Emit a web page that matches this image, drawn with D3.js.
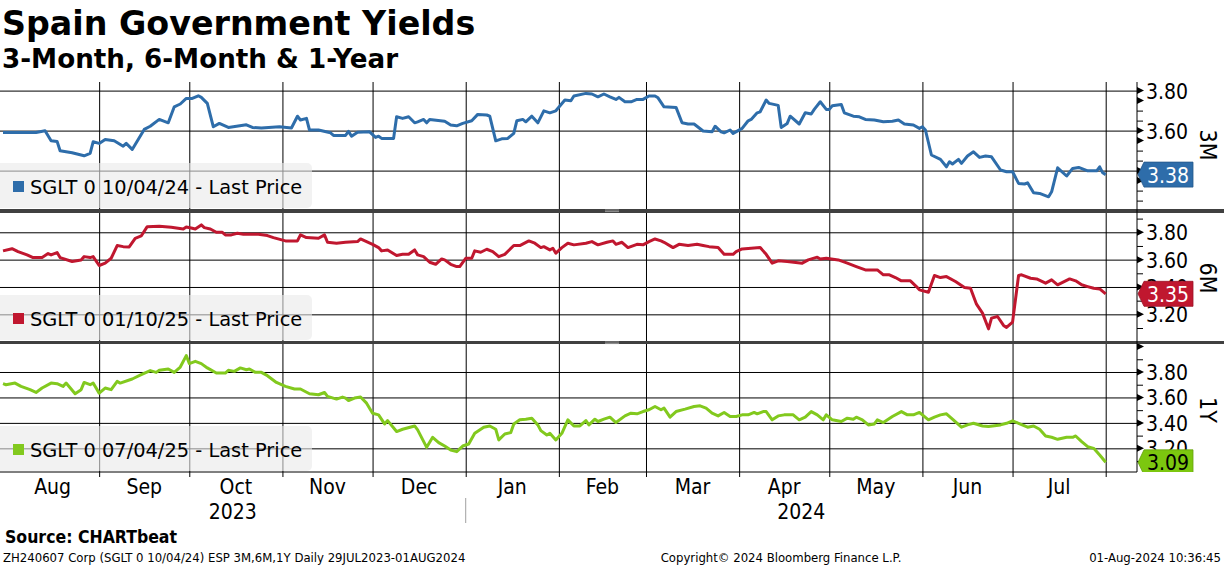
<!DOCTYPE html>
<html>
<head>
<meta charset="utf-8">
<script src="https://cdn.jsdelivr.net/npm/d3@7"></script>
<style>
  body { margin: 0; background: #fff; }
  svg { display: block; }
</style>
</head>
<body>
<svg id="chart" width="1224" height="566"></svg>
<script>
// ---- data ----
const sglt3M = [
  ["2023-07-31",3.591],["2023-08-11",3.591],["2023-08-14",3.599],["2023-08-16",3.549],["2023-08-18",3.546],
  ["2023-08-19",3.499],["2023-08-23",3.489],["2023-08-27",3.474],["2023-08-29",3.486],["2023-08-30",3.544],
  ["2023-09-01",3.536],["2023-09-03",3.556],["2023-09-06",3.549],["2023-09-09",3.522],["2023-09-10",3.536],
  ["2023-09-12",3.506],["2023-09-14",3.556],["2023-09-16",3.606],["2023-09-18",3.622],["2023-09-21",3.656],
  ["2023-09-24",3.639],["2023-09-26",3.719],["2023-09-28",3.733],["2023-09-30",3.761],["2023-10-02",3.761],
  ["2023-10-04",3.774],["2023-10-05",3.766],["2023-10-07",3.736],["2023-10-09",3.619],["2023-10-11",3.636],
  ["2023-10-14",3.616],["2023-10-20",3.629],["2023-10-22",3.616],["2023-10-25",3.613],["2023-10-31",3.619],
  ["2023-11-04",3.613],["2023-11-06",3.672],["2023-11-07",3.653],["2023-11-09",3.661],["2023-11-10",3.603],
  ["2023-11-13",3.603],["2023-11-17",3.589],["2023-11-18",3.576],["2023-11-22",3.576],["2023-11-23",3.596],
  ["2023-11-24",3.572],["2023-11-26",3.592],["2023-11-30",3.594],["2023-12-02",3.566],["2023-12-03",3.572],
  ["2023-12-04",3.561],["2023-12-08",3.561],["2023-12-09",3.669],["2023-12-11",3.661],["2023-12-13",3.669],
  ["2023-12-15",3.639],["2023-12-16",3.644],["2023-12-18",3.656],["2023-12-19",3.639],["2023-12-20",3.656],
  ["2023-12-25",3.647],["2023-12-27",3.628],["2023-12-29",3.624],["2023-12-31",3.636],["2024-01-03",3.649],
  ["2024-01-05",3.681],["2024-01-08",3.678],["2024-01-09",3.672],["2024-01-11",3.549],["2024-01-13",3.559],
  ["2024-01-15",3.561],["2024-01-17",3.586],["2024-01-18",3.649],["2024-01-20",3.656],["2024-01-21",3.644],
  ["2024-01-23",3.672],["2024-01-25",3.639],["2024-01-27",3.699],["2024-01-29",3.689],["2024-01-31",3.699],
  ["2024-02-03",3.753],["2024-02-05",3.749],["2024-02-06",3.773],["2024-02-10",3.786],["2024-02-12",3.783],
  ["2024-02-14",3.769],["2024-02-16",3.783],["2024-02-18",3.769],["2024-02-20",3.756],["2024-02-21",3.766],
  ["2024-02-23",3.744],["2024-02-25",3.744],["2024-02-27",3.756],["2024-02-29",3.756],["2024-03-02",3.773],
  ["2024-03-04",3.773],["2024-03-05",3.764],["2024-03-07",3.719],["2024-03-11",3.716],["2024-03-13",3.639],
  ["2024-03-15",3.633],["2024-03-17",3.633],["2024-03-20",3.598],["2024-03-23",3.594],["2024-03-24",3.622],
  ["2024-03-26",3.594],["2024-03-27",3.589],["2024-03-29",3.603],["2024-03-30",3.586],["2024-04-02",3.611],
  ["2024-04-04",3.649],["2024-04-05",3.656],["2024-04-07",3.689],["2024-04-08",3.694],["2024-04-10",3.753],
  ["2024-04-11",3.736],["2024-04-14",3.726],["2024-04-15",3.616],["2024-04-17",3.636],["2024-04-18",3.672],
  ["2024-04-21",3.633],["2024-04-23",3.689],["2024-04-25",3.683],["2024-04-26",3.706],["2024-04-28",3.744],
  ["2024-04-30",3.706],["2024-05-01",3.706],["2024-05-02",3.724],["2024-05-05",3.731],["2024-05-06",3.689],
  ["2024-05-09",3.672],["2024-05-11",3.669],["2024-05-13",3.656],["2024-05-16",3.653],["2024-05-19",3.644],
  ["2024-05-22",3.647],["2024-05-24",3.653],["2024-05-26",3.633],["2024-05-29",3.628],["2024-05-31",3.611],
  ["2024-06-01",3.619],["2024-06-02",3.603],["2024-06-04",3.478],["2024-06-07",3.456],["2024-06-09",3.419],
  ["2024-06-10",3.444],["2024-06-11",3.433],["2024-06-13",3.456],["2024-06-14",3.436],["2024-06-16",3.473],
  ["2024-06-18",3.494],["2024-06-20",3.466],["2024-06-22",3.473],["2024-06-24",3.469],["2024-06-27",3.403],
  ["2024-06-29",3.394],["2024-07-01",3.394],["2024-07-03",3.336],["2024-07-05",3.333],["2024-07-06",3.339],
  ["2024-07-08",3.289],["2024-07-10",3.286],["2024-07-13",3.269],["2024-07-14",3.294],["2024-07-16",3.414],
  ["2024-07-19",3.373],["2024-07-21",3.411],["2024-07-23",3.416],["2024-07-26",3.399],["2024-07-29",3.399],
  ["2024-07-30",3.419],["2024-07-31",3.389],["2024-08-01",3.38]
];

const sglt6M = [
  ["2023-07-31",3.664],["2023-08-03",3.680],["2023-08-05",3.659],["2023-08-08",3.635],["2023-08-10",3.615],
  ["2023-08-13",3.615],["2023-08-15",3.644],["2023-08-16",3.634],["2023-08-18",3.652],["2023-08-19",3.615],
  ["2023-08-23",3.586],["2023-08-26",3.598],["2023-08-27",3.622],["2023-08-29",3.615],["2023-08-30",3.622],
  ["2023-09-01",3.557],["2023-09-03",3.574],["2023-09-05",3.610],["2023-09-07",3.703],["2023-09-09",3.695],
  ["2023-09-11",3.693],["2023-09-13",3.756],["2023-09-15",3.773],["2023-09-17",3.841],["2023-09-21",3.844],
  ["2023-09-25",3.836],["2023-09-29",3.824],["2023-09-30",3.839],["2023-10-02",3.829],["2023-10-03",3.824],
  ["2023-10-05",3.854],["2023-10-06",3.834],["2023-10-08",3.824],["2023-10-10",3.800],["2023-10-12",3.800],
  ["2023-10-13",3.781],["2023-10-15",3.781],["2023-10-17",3.793],["2023-10-19",3.786],["2023-10-24",3.786],
  ["2023-10-27",3.776],["2023-10-29",3.761],["2023-11-02",3.737],["2023-11-06",3.737],["2023-11-07",3.781],
  ["2023-11-09",3.761],["2023-11-13",3.756],["2023-11-15",3.781],["2023-11-16",3.727],["2023-11-19",3.720],
  ["2023-11-22",3.727],["2023-11-26",3.732],["2023-11-27",3.751],["2023-12-01",3.712],["2023-12-03",3.688],
  ["2023-12-04",3.664],["2023-12-06",3.671],["2023-12-09",3.630],["2023-12-11",3.639],["2023-12-13",3.639],
  ["2023-12-15",3.671],["2023-12-16",3.635],["2023-12-18",3.622],["2023-12-20",3.581],["2023-12-22",3.566],
  ["2023-12-24",3.605],["2023-12-25",3.598],["2023-12-27",3.566],["2023-12-29",3.549],["2023-12-30",3.549],
  ["2024-01-01",3.610],["2024-01-03",3.610],["2024-01-04",3.664],["2024-01-06",3.654],["2024-01-08",3.676],
  ["2024-01-10",3.659],["2024-01-12",3.622],["2024-01-14",3.639],["2024-01-17",3.703],["2024-01-19",3.703],
  ["2024-01-22",3.737],["2024-01-24",3.720],["2024-01-26",3.688],["2024-01-27",3.695],["2024-01-29",3.671],
  ["2024-01-30",3.683],["2024-01-31",3.647],["2024-02-02",3.688],["2024-02-04",3.720],["2024-02-06",3.708],
  ["2024-02-10",3.720],["2024-02-12",3.732],["2024-02-14",3.708],["2024-02-17",3.727],["2024-02-19",3.737],
  ["2024-02-20",3.712],["2024-02-22",3.727],["2024-02-24",3.688],["2024-02-27",3.712],["2024-02-29",3.708],
  ["2024-03-02",3.732],["2024-03-04",3.751],["2024-03-06",3.737],["2024-03-07",3.727],["2024-03-10",3.688],
  ["2024-03-12",3.712],["2024-03-15",3.703],["2024-03-18",3.712],["2024-03-20",3.703],["2024-03-22",3.695],
  ["2024-03-25",3.688],["2024-03-27",3.639],["2024-03-30",3.639],["2024-03-31",3.659],["2024-04-02",3.678],
  ["2024-04-05",3.683],["2024-04-08",3.688],["2024-04-10",3.639],["2024-04-12",3.574],["2024-04-14",3.591],
  ["2024-04-17",3.586],["2024-04-22",3.574],["2024-04-24",3.598],["2024-04-27",3.618],["2024-04-28",3.605],
  ["2024-04-30",3.610],["2024-05-04",3.598],["2024-05-07",3.574],["2024-05-10",3.549],["2024-05-13",3.525],
  ["2024-05-17",3.525],["2024-05-19",3.489],["2024-05-21",3.489],["2024-05-23",3.469],["2024-05-25",3.445],
  ["2024-05-28",3.445],["2024-05-30",3.403],["2024-05-31",3.379],["2024-06-03",3.362],["2024-06-05",3.484],
  ["2024-06-07",3.469],["2024-06-09",3.476],["2024-06-12",3.440],["2024-06-15",3.396],["2024-06-17",3.391],
  ["2024-06-19",3.274],["2024-06-21",3.209],["2024-06-23",3.094],["2024-06-24",3.172],["2024-06-26",3.184],
  ["2024-06-28",3.119],["2024-06-29",3.104],["2024-07-01",3.143],["2024-07-03",3.484],["2024-07-04",3.489],
  ["2024-07-07",3.464],["2024-07-09",3.459],["2024-07-12",3.428],["2024-07-14",3.452],["2024-07-16",3.416],
  ["2024-07-20",3.459],["2024-07-22",3.445],["2024-07-24",3.416],["2024-07-26",3.403],["2024-07-28",3.391],
  ["2024-07-30",3.386],["2024-08-01",3.35]
];

const sglt1Y = [
  ["2023-07-31",3.708],["2023-08-01",3.700],["2023-08-04",3.713],["2023-08-06",3.687],["2023-08-09",3.661],
  ["2023-08-11",3.639],["2023-08-13",3.674],["2023-08-16",3.713],["2023-08-18",3.708],["2023-08-20",3.687],
  ["2023-08-21",3.713],["2023-08-24",3.629],["2023-08-26",3.661],["2023-08-27",3.718],["2023-08-29",3.700],
  ["2023-08-30",3.713],["2023-09-01",3.634],["2023-09-03",3.674],["2023-09-05",3.661],["2023-09-07",3.726],
  ["2023-09-08",3.713],["2023-09-12",3.745],["2023-09-15",3.779],["2023-09-18",3.811],["2023-09-20",3.797],
  ["2023-09-21",3.813],["2023-09-24",3.824],["2023-09-26",3.797],["2023-09-28",3.839],["2023-09-30",3.929],
  ["2023-10-01",3.866],["2023-10-03",3.884],["2023-10-05",3.866],["2023-10-07",3.832],["2023-10-10",3.792],
  ["2023-10-13",3.792],["2023-10-14",3.813],["2023-10-16",3.805],["2023-10-18",3.832],["2023-10-20",3.818],
  ["2023-10-21",3.824],["2023-10-23",3.797],["2023-10-25",3.797],["2023-10-27",3.771],["2023-10-30",3.718],
  ["2023-11-02",3.687],["2023-11-05",3.666],["2023-11-07",3.666],["2023-11-10",3.629],["2023-11-13",3.621],
  ["2023-11-15",3.639],["2023-11-16",3.608],["2023-11-19",3.587],["2023-11-21",3.603],["2023-11-22",3.595],
  ["2023-11-23",3.576],["2023-11-25",3.595],["2023-11-27",3.603],["2023-11-29",3.555],["2023-12-01",3.476],
  ["2023-12-03",3.463],["2023-12-05",3.392],["2023-12-06",3.418],["2023-12-09",3.332],["2023-12-11",3.350],
  ["2023-12-15",3.376],["2023-12-16",3.345],["2023-12-19",3.208],["2023-12-21",3.287],["2023-12-23",3.245],
  ["2023-12-25",3.218],["2023-12-27",3.187],["2023-12-29",3.174],["2023-12-31",3.218],["2024-01-02",3.234],
  ["2024-01-04",3.318],["2024-01-07",3.366],["2024-01-09",3.376],["2024-01-11",3.350],["2024-01-12",3.266],
  ["2024-01-14",3.313],["2024-01-16",3.324],["2024-01-17",3.392],["2024-01-19",3.424],["2024-01-21",3.429],
  ["2024-01-23",3.437],["2024-01-25",3.384],["2024-01-26",3.339],["2024-01-28",3.305],["2024-01-29",3.318],
  ["2024-01-31",3.266],["2024-02-02",3.318],["2024-02-04",3.424],["2024-02-06",3.376],["2024-02-08",3.376],
  ["2024-02-10",3.418],["2024-02-11",3.384],["2024-02-13",3.429],["2024-02-14",3.411],["2024-02-16",3.429],
  ["2024-02-18",3.445],["2024-02-20",3.403],["2024-02-23",3.455],["2024-02-25",3.476],["2024-02-27",3.471],
  ["2024-02-29",3.489],["2024-03-02",3.503],["2024-03-04",3.529],["2024-03-06",3.503],["2024-03-07",3.516],
  ["2024-03-09",3.445],["2024-03-11",3.489],["2024-03-14",3.508],["2024-03-17",3.529],["2024-03-19",3.534],
  ["2024-03-21",3.516],["2024-03-23",3.476],["2024-03-25",3.455],["2024-03-27",3.482],["2024-03-29",3.450],
  ["2024-03-31",3.450],["2024-04-02",3.463],["2024-04-04",3.463],["2024-04-06",3.482],["2024-04-07",3.471],
  ["2024-04-09",3.489],["2024-04-10",3.489],["2024-04-12",3.424],["2024-04-14",3.455],["2024-04-16",3.463],
  ["2024-04-19",3.463],["2024-04-21",3.424],["2024-04-23",3.445],["2024-04-25",3.489],["2024-04-27",3.463],
  ["2024-04-29",3.424],["2024-04-30",3.463],["2024-05-02",3.424],["2024-05-05",3.411],["2024-05-07",3.437],
  ["2024-05-09",3.429],["2024-05-10",3.445],["2024-05-12",3.424],["2024-05-14",3.384],["2024-05-16",3.392],
  ["2024-05-17",3.424],["2024-05-19",3.403],["2024-05-22",3.450],["2024-05-25",3.489],["2024-05-27",3.463],
  ["2024-05-29",3.463],["2024-05-31",3.482],["2024-06-03",3.424],["2024-06-05",3.445],["2024-06-07",3.463],
  ["2024-06-09",3.471],["2024-06-11",3.429],["2024-06-14",3.366],["2024-06-16",3.384],["2024-06-18",3.397],
  ["2024-06-21",3.376],["2024-06-23",3.371],["2024-06-27",3.384],["2024-06-29",3.397],["2024-07-01",3.416],
  ["2024-07-03",3.397],["2024-07-06",3.366],["2024-07-08",3.376],["2024-07-10",3.350],["2024-07-12",3.297],
  ["2024-07-14",3.287],["2024-07-16",3.271],["2024-07-19",3.287],["2024-07-21",3.287],["2024-07-22",3.297],
  ["2024-07-24",3.253],["2024-07-26",3.213],["2024-07-28",3.200],["2024-07-30",3.147],["2024-08-01",3.09]
];

const seriesNames = ["3M", "6M", "1Y"];
const legendLabels = [
  "SGLT 0 10/04/24 - Last Price",
  "SGLT 0 01/10/25 - Last Price",
  "SGLT 0 07/04/25 - Last Price"
];
const lastValues = ["3.38", "3.35", "3.09"];
const ticks3M = [3.4, 3.6, 3.8];
const ticks6M = [3.2, 3.4, 3.6, 3.8];
const ticks1Y = [3.2, 3.4, 3.6, 3.8];
const monthLabels = ["Aug", "Sep", "Oct", "Nov", "Dec", "Jan", "Feb", "Mar", "Apr", "May", "Jun", "Jul"];
const yearLabels = ["2023", "2024"];

// ---- layout ----
const FONT = "'DejaVu Sans Condensed', 'DejaVu Sans', sans-serif";
const FONT_WIDE = "'DejaVu Sans', sans-serif";
const plotRight = 1137;
const parseDate = d3.timeParse("%Y-%m-%d");

const panels = [
  { data: sglt3M, top: 82, bottom: 209, domain: [3.208, 3.843], ticks: ticks3M,
    color: "#2e6daa", badge: "#2e6daa", badgeText: "#fff", titleY: 145 },
  { data: sglt6M, top: 213, bottom: 341, domain: [3.005, 3.941], ticks: ticks6M,
    color: "#c0172f", badge: "#c0172f", badgeText: "#fff", titleY: 278 },
  { data: sglt1Y, top: 344, bottom: 472, domain: [3.014, 4.02], ticks: ticks1Y,
    color: "#82c91e", badge: "#7cc70f", badgeText: "#000", titleY: 410 }
];

const svg = d3.select("#chart");

const x = d3.scaleTime()
  .domain([new Date(2023, 6, 30), new Date(2024, 7, 11, 10)])
  .range([0, plotRight]);

const monthStarts = d3.timeMonth.range(new Date(2023, 8, 1), new Date(2024, 7, 2));
const labelMonths = d3.timeMonth.range(new Date(2023, 7, 1), new Date(2024, 7, 1));

// Title
svg.append("text")
  .attr("x", 2).attr("y", 35)
  .style("font-family", FONT_WIDE).style("font-weight", "bold").style("font-size", "33.3px")
  .text("Spain Government Yields");

svg.append("text")
  .attr("x", 2).attr("y", 68)
  .style("font-family", FONT_WIDE).style("font-weight", "bold").style("font-size", "26.2px")
  .text("3-Month, 6-Month & 1-Year");

panels.forEach((p, i) => {
  const y = d3.scaleLinear().domain(p.domain).range([p.bottom, p.top]);
  const g = svg.append("g");

  g.append("clipPath").attr("id", "clip" + i)
    .append("rect").attr("x", 0).attr("y", p.top).attr("width", 1224).attr("height", p.bottom - p.top);

  // vertical gridlines (month starts)
  g.append("g")
    .attr("transform", `translate(0,${p.bottom})`)
    .call(d3.axisBottom(x).tickValues(monthStarts).tickSize(-(p.bottom - p.top)).tickFormat(""))
    .call(s => s.select(".domain").remove())
    .selectAll("line").attr("stroke", "#000").attr("stroke-width", 1);

  // horizontal gridlines
  g.append("g")
    .attr("transform", `translate(${plotRight},0)`)
    .call(d3.axisLeft(y).tickValues(p.ticks).tickSize(plotRight).tickFormat(""))
    .call(s => s.select(".domain").remove())
    .selectAll("line").attr("stroke", "#000").attr("stroke-width", 1);

  // legend box (semi-transparent, gridlines show through)
  const lgTop = p.bottom - 46;
  g.append("rect")
    .attr("x", -6).attr("y", lgTop).attr("width", 318).attr("height", 45)
    .attr("rx", 5)
    .attr("fill", "rgb(233,233,233)").attr("fill-opacity", 0.6);
  g.append("rect")
    .attr("x", 13).attr("y", lgTop + 18).attr("width", 11).attr("height", 11)
    .attr("fill", p.color);
  g.append("text")
    .attr("x", 30).attr("y", lgTop + 31)
    .style("font-family", FONT_WIDE).style("font-size", "19.4px").attr("fill", "#000")
    .text(legendLabels[i]);

  // series line
  const line = d3.line()
    .x(d => x(parseDate(d[0])))
    .y(d => y(d[1]));
  g.append("path")
    .datum(p.data)
    .attr("clip-path", `url(#clip${i})`)
    .attr("fill", "none")
    .attr("stroke", p.color)
    .attr("stroke-width", 3)
    .attr("stroke-linejoin", "round")
    .attr("d", line);

  // right axis: minor ticks every 0.1, arrow markers every 0.2
  const allTicks = d3.ticks(p.domain[0], p.domain[1], 10)
    .filter(v => y(v) > p.top + 1 && y(v) < p.bottom - 1);
  const major = allTicks.filter(v => Math.abs(Math.round(v * 10) % 2) === 0);
  const minor = allTicks.filter(v => Math.abs(Math.round(v * 10) % 2) === 1);

  g.append("g")
    .attr("transform", `translate(${plotRight},0)`)
    .call(d3.axisRight(y).tickValues(minor).tickSize(6).tickFormat(""))
    .call(s => s.select(".domain").remove())
    .selectAll("line").attr("stroke", "#000");

  g.selectAll(".arrow")
    .data(major)
    .join("path")
    .attr("d", v => `M${plotRight},${y(v) - 3.5}L${plotRight + 7},${y(v)}L${plotRight},${y(v) + 3.5}Z`)
    .attr("fill", "#000");

  // labels fully hidden by the last-value badge are not drawn
  const last = p.data[p.data.length - 1];
  const cy = y(last[1]);
  g.selectAll(".ylab")
    .data(p.ticks.filter(v => Math.abs(y(v) - cy) > 6))
    .join("text")
    .attr("x", plotRight + 9)
    .attr("y", v => y(v) + 1)
    .attr("dominant-baseline", "central")
    .style("font-family", FONT).style("font-size", "21px")
    .text(v => v.toFixed(2));

  // series name, rotated
  g.append("text")
    .attr("transform", `translate(1200,${p.titleY}) rotate(90)`)
    .attr("text-anchor", "middle")
    .style("font-family", FONT).style("font-size", "23px")
    .text(seriesNames[i]);

  // last value badge
  const badge = g.append("g").attr("clip-path", `url(#clip${i})`);
  badge.append("path")
    .attr("d", `M${plotRight + 1},${cy}L${plotRight + 7},${cy - 12.5}H1193V${cy + 12.5}H${plotRight + 7}Z`)
    .attr("fill", p.badge)
    .attr("stroke", d3.color(p.badge).darker(0.6))
    .attr("stroke-width", 0.8);
  badge.append("text")
    .attr("x", 1168).attr("y", cy + 1)
    .attr("text-anchor", "middle").attr("dominant-baseline", "central")
    .style("font-family", FONT).style("font-size", "21px")
    .attr("fill", p.badgeText)
    .text(lastValues[i]);
});

// separators between panels
[[209, 213], [341, 344]].forEach(([a, b]) => {
  svg.append("rect").attr("x", 0).attr("y", a).attr("width", 1224).attr("height", b - a).attr("fill", "#404040");
  svg.append("line").attr("x1", 605).attr("x2", 619).attr("y1", a + 1).attr("y2", a + 1)
    .attr("stroke", "#a8a8a8").attr("stroke-width", 0.8);
  svg.append("line").attr("x1", 605).attr("x2", 619).attr("y1", a + 2.6).attr("y2", a + 2.6)
    .attr("stroke", "#a8a8a8").attr("stroke-width", 0.8);
});

// right axis line
svg.append("line")
  .attr("x1", plotRight).attr("x2", plotRight).attr("y1", 82).attr("y2", 472)
  .attr("stroke", "#000");

// bottom axis
const xAxis = svg.append("g")
  .attr("transform", "translate(0,472)")
  .call(d3.axisBottom(x).tickValues(monthStarts).tickSize(5).tickFormat(""));
xAxis.select(".domain").attr("d", `M0,0H${plotRight}`).attr("stroke", "#000");
xAxis.selectAll("line").attr("stroke", "#000");

svg.selectAll(".month")
  .data(labelMonths)
  .join("text")
  .attr("x", (m, i) => (x(m) + x(d3.timeMonth.offset(m, 1))) / 2)
  .attr("y", 494)
  .attr("text-anchor", "middle")
  .style("font-family", FONT).style("font-size", "21px")
  .text((m, i) => monthLabels[i]);

const yearSplit = x(new Date(2024, 0, 1));
svg.append("line")
  .attr("x1", yearSplit).attr("x2", yearSplit).attr("y1", 498).attr("y2", 523)
  .attr("stroke", "#a0a0a0");
svg.selectAll(".year")
  .data(yearLabels)
  .join("text")
  .attr("x", (d, i) => i === 0 ? yearSplit / 2 : (yearSplit + plotRight) / 2)
  .attr("y", 519)
  .attr("text-anchor", "middle")
  .style("font-family", FONT).style("font-size", "21px")
  .text(d => d);

// source and footer
svg.append("text")
  .attr("x", 5).attr("y", 543)
  .style("font-family", FONT).style("font-weight", "bold").style("font-size", "17.5px")
  .text("Source: CHARTbeat");

const footer = svg.append("g")
  .style("font-family", FONT).style("font-size", "13px").attr("fill", "#000");
footer.append("text").attr("x", 3).attr("y", 561.5)
  .text("ZH240607 Corp (SGLT 0 10/04/24) ESP 3M,6M,1Y  Daily 29JUL2023-01AUG2024");
footer.append("text").attr("x", 781).attr("y", 561.5).attr("text-anchor", "middle")
  .text("Copyright\u00A9 2024 Bloomberg Finance L.P.");
footer.append("text").attr("x", 1221).attr("y", 561.5).attr("text-anchor", "end")
  .text("01-Aug-2024 10:36:45");
</script>
</body>
</html>
